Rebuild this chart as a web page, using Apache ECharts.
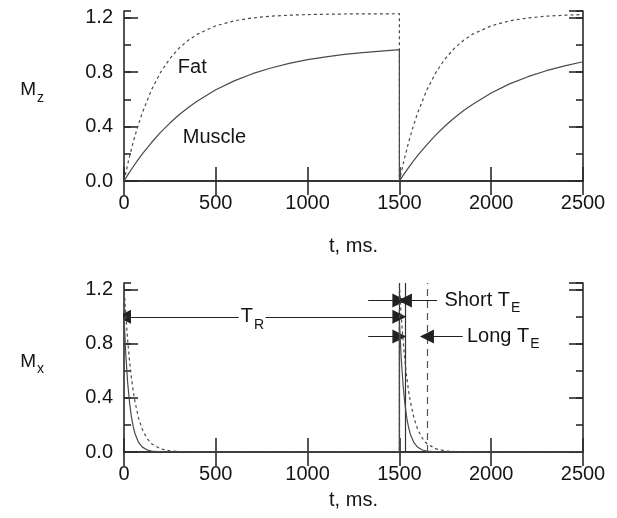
<!DOCTYPE html>
<html>
<head>
<meta charset="utf-8">
<script src="https://cdn.jsdelivr.net/npm/echarts@6/dist/echarts.min.js"></script>
<style>html,body{margin:0;padding:0;background:#fff}#c{width:617px;height:518px}</style>
</head>
<body>
<div id="c"></div>
<script>
// ---------- Top panel: longitudinal magnetisation Mz ----------
const tMz = [0,25,50,75,100,150,200,250,300,350,400,500,600,700,800,900,1000,1100,1200,1300,1400,1500,
             1500,1525,1550,1575,1600,1650,1700,1750,1800,1850,1900,2000,2100,2200,2300,2400,2500];
const muscleMz = [0,0.054,0.105,0.154,0.199,0.283,0.359,0.426,0.487,0.541,0.589,0.671,0.736,0.789,0.831,0.865,0.892,0.913,0.931,0.944,0.955,0.966,
                  0,0.051,0.099,0.145,0.188,0.268,0.341,0.406,0.465,0.518,0.565,0.647,0.714,0.767,0.811,0.847,0.877];
const fatMz = [0,0.152,0.285,0.401,0.503,0.671,0.801,0.900,0.977,1.035,1.080,1.141,1.178,1.199,1.212,1.219,1.224,1.226,1.228,1.229,1.229,1.230,
               0,0.152,0.285,0.401,0.503,0.671,0.801,0.900,0.977,1.035,1.080,1.141,1.178,1.199,1.212,1.219,1.224];

// ---------- Bottom panel: transverse magnetisation Mx ----------
const tMx = [0,10,20,30,40,50,60,80,100,125,150,200,250,300,350,400,
             1500,1500,1510,1520,1530,1540,1550,1560,1580,1600,1625,1650,1700,1750,1800,1850,1900,2500];
const muscleMx = [1.0,0.717,0.513,0.368,0.264,0.189,0.135,0.069,0.036,0.016,0.007,0.001,0,0,0,0,
                  0,0.964,0.691,0.495,0.355,0.254,0.182,0.130,0.067,0.035,0.015,0.006,0.001,0,0,0,0,0];
const fatMx = [1.23,1.007,0.825,0.675,0.553,0.452,0.370,0.248,0.166,0.101,0.061,0.023,0.008,0.003,0.001,0,
               0,1.23,1.007,0.825,0.675,0.553,0.452,0.370,0.248,0.166,0.101,0.061,0.023,0.008,0.003,0.001,0,0];

// axis ticks
const xTicks = [0,500,1000,1500,2000,2500];
const yTicks = [0.0,0.4,0.8,1.2];

// annotation geometry in data units (bottom panel)
const pulseT = 1500, shortTE = 1530, longTE = 1650;
const solidMarkers = [pulseT, shortTE];
const dashedMarkers = [longTE];
const arrowSegments = [   // [fromT, fromV, toT, toV]  (arrowhead at "to")
  [625,1.0,0,1.0],
  [771,1.0,1500,1.0],
  [1330,1.12,1500,1.12],
  [1705,1.12,1530,1.12],
  [1330,0.855,1500,0.855],
  [1845,0.855,1650,0.855]
];
const bottomLabels = [ // [t, value, text, position]
  [700,1.0,'T{s|R}','inside'],
  [1745,1.12,'Short T{s|E}','right'],
  [1868,0.855,'Long T{s|E}','right']
];
const topLabels = [
  [372,0.835,'Fat'],
  [493,0.32,'Muscle']
];

const FONT = '"Liberation Sans", Arial, Helvetica, sans-serif';
const INK = '#151515';
const FRAME = '#2a2a2a';
const CURVE = '#4a4a4a';
const yMax = 1.25;

const grids = [
  {left:124, right:34, top:11, height:170},
  {left:124, right:34, top:283, height:169}
];
const nameGaps = [55, 38];
const yNames = ['M{s|z}', 'M{s|x}'];

const richSub = {
  m:{fontSize:19, fontFamily:FONT, color:INK},
  s:{fontSize:14, fontFamily:FONT, color:INK, padding:[16,0,0,1]}
};
const richLabel = {
  s:{fontSize:14, fontFamily:FONT, color:INK, padding:[16,0,0,1], opacity:1, textBorderWidth:0}
};

const xAxes = [], yAxes = [];
grids.forEach((g, gi) => {
  const line = {show:true, lineStyle:{color:FRAME, width:1.6}};
  xAxes.push({
    gridIndex:gi, type:'value', min:0, max:2500, interval:500, position:'bottom',
    axisLine:line, axisTick:{show:true, inside:true, length:14, lineStyle:{color:FRAME, width:1.6}},
    axisLabel:{fontSize:20, color:INK, fontFamily:FONT, margin:12, formatter:v => xTicks.includes(v) ? String(v) : ''},
    splitLine:{show:false},
    name:'t, ms.', nameLocation:'middle', nameGap:nameGaps[gi],
    nameTextStyle:{fontSize:20, color:INK, fontFamily:FONT}
  });
  xAxes.push({
    gridIndex:gi, type:'value', min:0, max:2500, interval:500, position:'top',
    axisLine:line, axisTick:{show:true, inside:true, length:14, lineStyle:{color:FRAME, width:1.6}},
    axisLabel:{show:false}, splitLine:{show:false}
  });
  ['left','right'].forEach(pos => {
    yAxes.push({
      gridIndex:gi, type:'value', min:0, max:yMax, interval:0.4, position:pos,
      axisLine:line, axisTick:{show:true, inside:true, length:14, lineStyle:{color:FRAME, width:1.6}},
      axisLabel: pos === 'left' ? {fontSize:20, color:INK, fontFamily:FONT, margin:11, showMaxLabel:false,
        formatter:v => yTicks.some(t => Math.abs(t - v) < 1e-6) ? v.toFixed(1) : ''} : {show:false},
      splitLine:{show:false},
      name: pos === 'left' ? yNames[gi] : '',
      nameLocation:'middle', nameRotate:0, nameGap:80,
      nameTextStyle:{fontSize:19, color:INK, fontFamily:FONT, rich:richSub, padding:[0,0,12,0]}
    });
    yAxes.push({
      gridIndex:gi, type:'value', min:0, max:yMax, interval:0.2, position:pos,
      axisLine:{show:false}, axisTick:{show:true, inside:true, length:7, lineStyle:{color:FRAME, width:1.6}},
      axisLabel:{show:false}, splitLine:{show:false}
    });
  });
});

const zip = (xs, ys) => xs.map((x, i) => [x, ys[i]]);
const TRI = 'path://M5,0 L10,14 L0,14 Z';
const textLabelBase = {show:true, fontSize:20, color:INK, fontFamily:FONT, opacity:1, textBorderWidth:0};

const series = [
  {type:'line', xAxisIndex:0, yAxisIndex:0, data:zip(tMz, muscleMz), showSymbol:false, symbol:'none',
   lineStyle:{color:CURVE, width:1.2}, animation:false, z:3},
  {type:'line', xAxisIndex:0, yAxisIndex:0, data:zip(tMz, fatMz), showSymbol:false, symbol:'none',
   lineStyle:{color:CURVE, width:1.2, type:[3,3]}, animation:false, z:3},
  {type:'scatter', xAxisIndex:0, yAxisIndex:0, symbolSize:0, animation:false, silent:true,
   itemStyle:{opacity:1, color:INK},
   data:topLabels.map(l => ({value:[l[0], l[1]], name:l[2]})),
   label:Object.assign({position:'inside', formatter:p => p.name}, textLabelBase)},
  {type:'line', xAxisIndex:2, yAxisIndex:4, data:zip(tMx, muscleMx), showSymbol:false, symbol:'none',
   lineStyle:{color:CURVE, width:1.2}, animation:false, z:3},
  {type:'line', xAxisIndex:2, yAxisIndex:4, data:zip(tMx, fatMx), showSymbol:false, symbol:'none',
   lineStyle:{color:CURVE, width:1.2, type:[3,3]}, animation:false, z:3},
  {type:'lines', coordinateSystem:'cartesian2d', xAxisIndex:2, yAxisIndex:4, animation:false, silent:true,
   data:solidMarkers.map(t => ({coords:[[t,0],[t,yMax]]})),
   lineStyle:{color:'#333', width:1.2, opacity:1, curveness:0}, symbol:'none'},
  {type:'lines', coordinateSystem:'cartesian2d', xAxisIndex:2, yAxisIndex:4, animation:false, silent:true,
   data:dashedMarkers.map(t => ({coords:[[t,0],[t,yMax]]})),
   lineStyle:{color:'#555', width:1.2, opacity:1, type:[7,5], curveness:0}, symbol:'none'},
  {type:'lines', coordinateSystem:'cartesian2d', xAxisIndex:2, yAxisIndex:4, animation:false, silent:true,
   data:arrowSegments.map(a => ({coords:[[a[0],a[1]],[a[2],a[3]]]})),
   lineStyle:{color:'#222', width:1.2, opacity:1, curveness:0},
   symbol:['none', TRI], symbolSize:[9,14], itemStyle:{color:'#111'}},
  {type:'scatter', xAxisIndex:2, yAxisIndex:4, symbolSize:0, animation:false, silent:true,
   itemStyle:{opacity:1, color:INK},
   data:bottomLabels.map(l => ({value:[l[0], l[1]], name:l[2], label:{position:l[3], distance:0}})),
   label:Object.assign({formatter:p => p.name, rich:richLabel}, textLabelBase)}
];

const chart = echarts.init(document.getElementById('c'), null, {renderer:'canvas'});
chart.setOption({
  animation:false,
  backgroundColor:'#fff',
  grid:grids,
  xAxis:xAxes,
  yAxis:yAxes,
  series:series
});
</script>
</body>
</html>
